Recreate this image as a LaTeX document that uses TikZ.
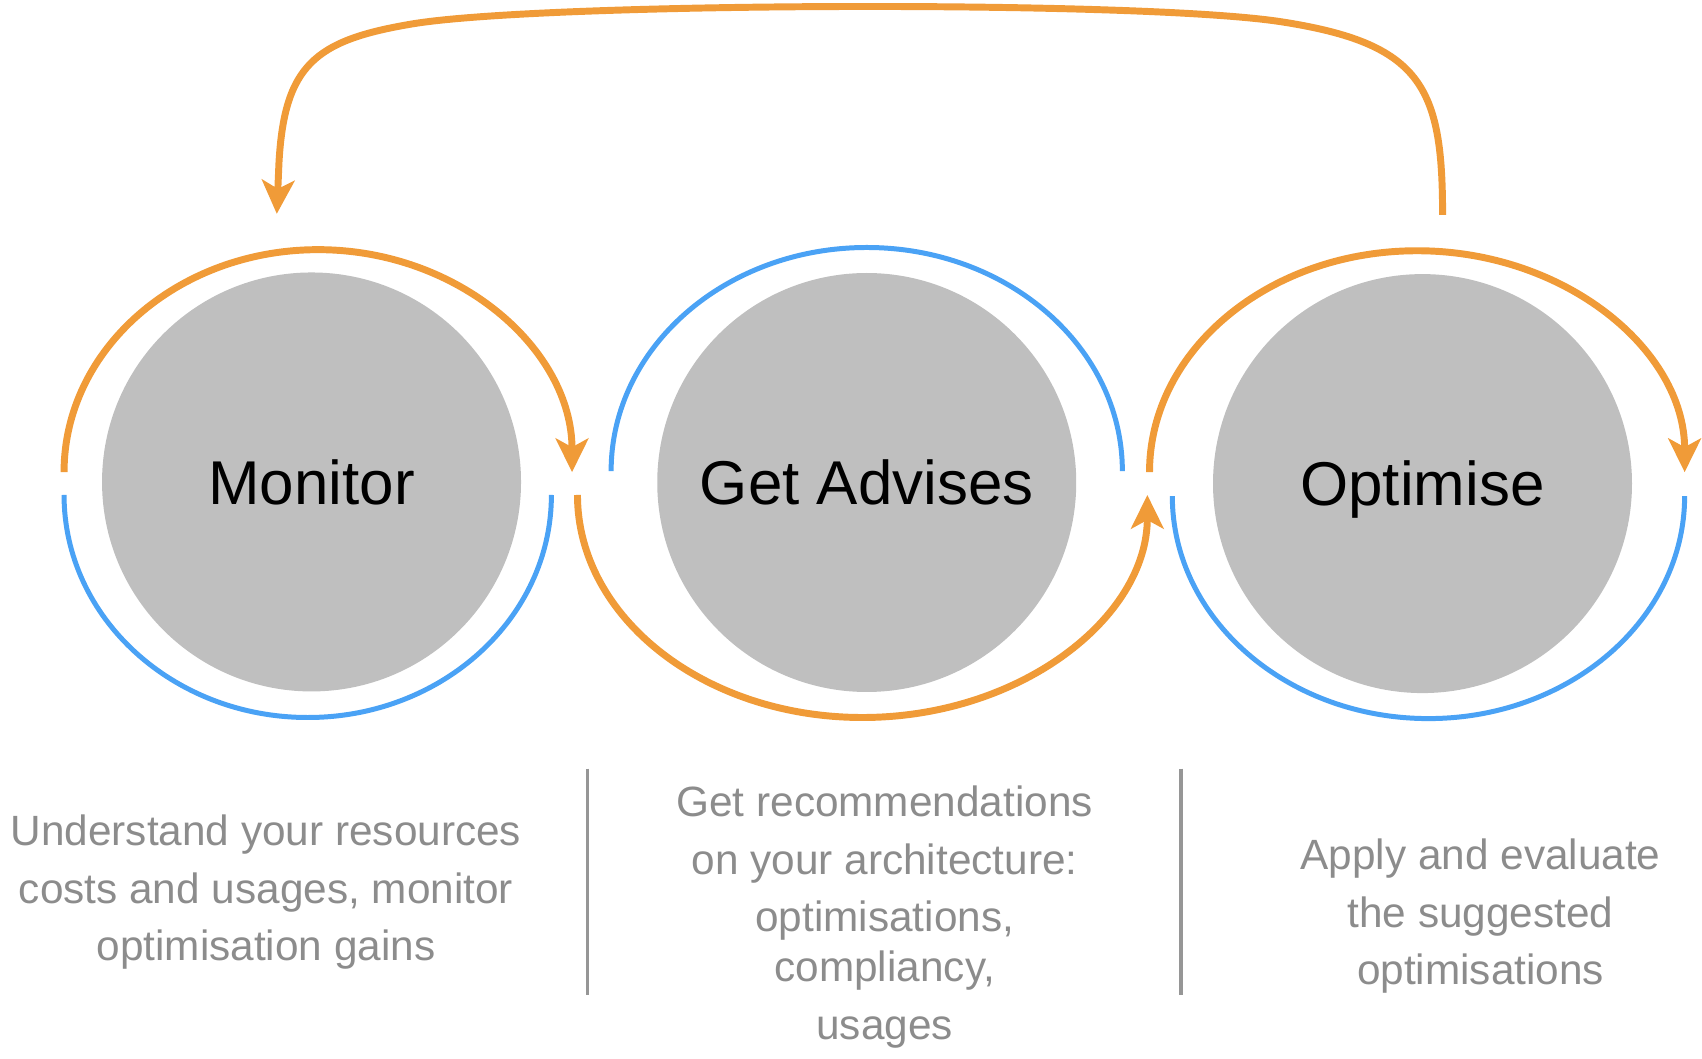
\documentclass[tikz,border=0pt]{standalone}
\usepackage{fontspec}
\setmainfont{Liberation Sans}
\usetikzlibrary{arrows.meta}
\definecolor{ringorange}{RGB}{240,155,56}
\definecolor{ringblue}{RGB}{74,162,245}
\definecolor{circgray}{RGB}{191,191,191}
\definecolor{descgray}{RGB}{140,140,140}
\definecolor{sepgray}{RGB}{150,150,150}
\begin{document}
\begin{tikzpicture}[x=0.5pt,y=-0.5pt,
  stage/.style={circle, fill=circgray, minimum size=193pt, inner sep=0pt,
    font=\fontsize{28.5pt}{34pt}\selectfont, text height=20.5pt, text depth=0pt},
  orng/.style={draw=ringorange, line width=3.2pt},
  blu/.style={draw=ringblue, line width=2.3pt},
  tip/.style={-{Stealth[length=15.5pt,width=15pt,inset=4pt]}},
  desc/.style={text=descgray, align=center, inner sep=0pt,
    font=\fontsize{19.5pt}{26.5pt}\selectfont},
  sepline/.style={draw=sepgray, line width=1.5pt}]
\useasboundingbox (0,0) rectangle (1568,975);

% stage circles
\node[stage] (mon) at (287,444) {Monitor};
\node[stage] (adv) at (798.5,444.5) {Get Advises};
\node[stage] (opt) at (1310.5,445.5) {Optimise};

% ring start points
\coordinate (monT) at (59,435);
\coordinate (monB) at (59,456);
\coordinate (advT) at (563,434);
\coordinate (advB) at (532,456);
\coordinate (optT) at (1059,435);
\coordinate (optB) at (1080,457);

% rings
\draw[orng,tip] (monT) arc[start angle=180, end angle=360, x radius=234, y radius=205];
\draw[blu] (monB) arc[start angle=180, end angle=0, x radius=224.5, y radius=205];
\draw[blu] (advT) arc[start angle=180, end angle=360, x radius=235.5, y radius=206];
\draw[orng,tip] (advB) arc[start angle=180, end angle=0, x radius=262.5, y radius=205];
\draw[orng,tip] (optT) arc[start angle=180, end angle=360, x radius=246.5, y radius=204];
\draw[blu] (optB) arc[start angle=180, end angle=0, x radius=236, y radius=205];

% feedback loop
\coordinate (loopS) at (1329,198);
\coordinate (loopE) at (255,197);
\draw[orng,tip] (loopS) .. controls (1329,80) and (1310,40) .. (1180,20)
  .. controls (1050,0) and (500,2) .. (380,22)
  .. controls (290,37) and (262,60) .. (257,150) -- (loopE);

% separators
\coordinate (s1t) at (541,708);
\coordinate (s1b) at (541,917);
\coordinate (s2t) at (1088,708);
\coordinate (s2b) at (1088,917);
\draw[sepline] (s1t) -- (s1b);
\draw[sepline] (s2t) -- (s2b);

% descriptions
\node[desc] (d1) at (245,822) {Understand your resources\\costs and usages, monitor\\optimisation gains};
\node[desc] (d2) at (815,845) {Get recommendations\\on your architecture:\\optimisations,\\[-3.5pt]compliancy,\\usages};
\node[desc] (d3) at (1364,844) {Apply and evaluate\\the suggested\\optimisations};
\end{tikzpicture}
\end{document}
